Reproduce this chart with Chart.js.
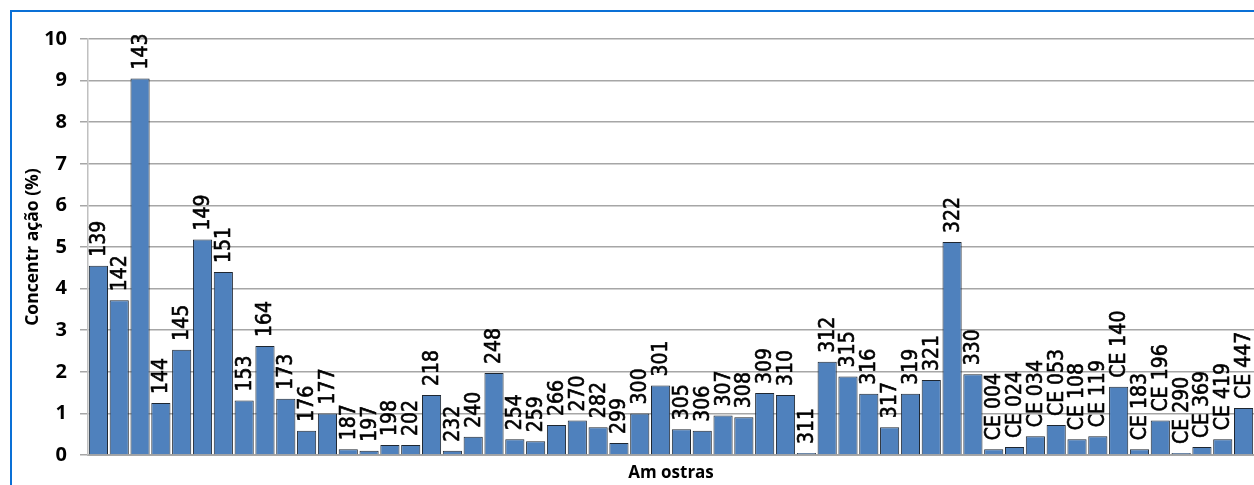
<!DOCTYPE html>
<html>
<head>
<meta charset="utf-8">
<script src="https://cdn.jsdelivr.net/npm/chart.js@4.4.1/dist/chart.umd.min.js"></script>
<style>
  html, body { margin: 0; padding: 0; background: #ffffff; overflow: hidden; }
  #wrap { position: relative; width: 1254px; height: 485px; }
  #frame { position: absolute; left: 10px; top: 10px; width: 1300px; height: 600px;
           border-left: 2px solid #0a70d6; border-top: 2px solid #0a70d6; box-sizing: border-box; }
  canvas { position: absolute; left: 0; top: 0; }
</style>
</head>
<body>
<div id="wrap">
  <div id="frame"></div>
  <canvas id="c" width="1254" height="485"></canvas>
</div>
<script>
// ---- data ----
const categories = [
  "139","142","143","144","145","149","151","153","164","173","176","177",
  "187","197","198","202","218","232","240","248",
  "254","259","266","270","282","299",
  "300","301","305","306","307","308","309","310","311",
  "312","315","316","317","319","321","322","330",
  "CE 004","CE 024","CE 034","CE 053","CE 108","CE 119","CE 140",
  "CE 183","CE 196","CE 290","CE 369","CE 419","CE 447"
];
const concentration = [
  4.55, 3.72, 9.05, 1.25, 2.53, 5.18, 4.40, 1.31, 2.62, 1.35, 0.58, 1.00,
  0.14, 0.10, 0.24, 0.24, 1.44, 0.10, 0.44, 1.97,
  0.38, 0.33, 0.72, 0.83, 0.67, 0.29,
  1.00, 1.67, 0.62, 0.58, 0.95, 0.91, 1.49, 1.44, 0.05,
  2.24, 1.89, 1.47, 0.67, 1.47, 1.80, 5.12, 1.94,
  0.14, 0.19, 0.45, 0.72, 0.38, 0.45, 1.64,
  0.14, 0.83, 0.05, 0.19, 0.38, 1.13
];
const yTicks = [0, 1, 2, 3, 4, 5, 6, 7, 8, 9, 10];
const yTitle = "Concentr ação (%)";
const xTitle = "Am ostras";

// ---- labels above bars (rotated) ----
const barLabels = {
  id: 'barLabels',
  afterDatasetsDraw(chart) {
    const ctx = chart.ctx;
    const meta = chart.getDatasetMeta(0);
    ctx.save();
    ctx.fillStyle = '#000000';
    ctx.strokeStyle = '#000000';
    ctx.lineWidth = 0.6;
    ctx.font = '21px "Liberation Sans Narrow", "DejaVu Sans Condensed", "Liberation Sans", sans-serif';
    ctx.textAlign = 'left';
    ctx.textBaseline = 'middle';
    meta.data.forEach((bar, i) => {
      ctx.save();
      ctx.translate(bar.x + 1, bar.y - 9);
      ctx.rotate(-Math.PI / 2);
      ctx.fillText(chart.data.labels[i], 0, 0);
      ctx.strokeText(chart.data.labels[i], 0, 0);
      ctx.restore();
    });
    ctx.restore();
  }
};

new Chart(document.getElementById('c'), {
  type: 'bar',
  data: {
    labels: categories,
    datasets: [{
      data: concentration,
      backgroundColor: '#4f81bd',
      borderColor: '#1e2630',
      borderWidth: 1,
      borderSkipped: 'bottom',
      categoryPercentage: 0.92,
      barPercentage: 1.0
    }]
  },
  options: {
    responsive: false,
    animation: false,
    devicePixelRatio: 1,
    layout: { padding: { left: 0, right: 0, top: 39, bottom: 0 } },
    plugins: { legend: { display: false }, tooltip: { enabled: false } },
    scales: {
      x: {
        offset: true,
        grid: { display: false },
        border: { display: true, color: '#a6a6a6', width: 2 },
        ticks: { display: false },
        title: {
          display: true, text: xTitle, color: '#000000',
          font: { family: '"Open Sans", "Liberation Sans", sans-serif', size: 17, weight: 'bold', lineHeight: 1.0 },
          padding: { top: 0, bottom: 3 }
        },
        afterFit(s) { s.height = 30; }
      },
      y: {
        min: 0, max: 10,
        afterBuildTicks(s) { s.ticks = yTicks.map(v => ({ value: v })); },
        grid: { color: '#a6a6a6', lineWidth: 1.5, tickLength: 8, drawTicks: true },
        border: { display: true, color: '#c0c0c0', width: 1.5 },
        ticks: {
          color: '#000000', padding: 13,
          font: { family: '"Open Sans", "Liberation Sans", sans-serif', size: 20, weight: 'bold' }
        },
        title: {
          display: true, text: yTitle, color: '#000000',
          font: { family: '"Open Sans", "Liberation Sans", sans-serif', size: 17.5, weight: 'bold', lineHeight: 1.0 },
          padding: { top: 24, bottom: 0 }
        },
        afterFit(s) { s.width = 88; }
      }
    }
  },
  plugins: [barLabels]
});
</script>
</body>
</html>
